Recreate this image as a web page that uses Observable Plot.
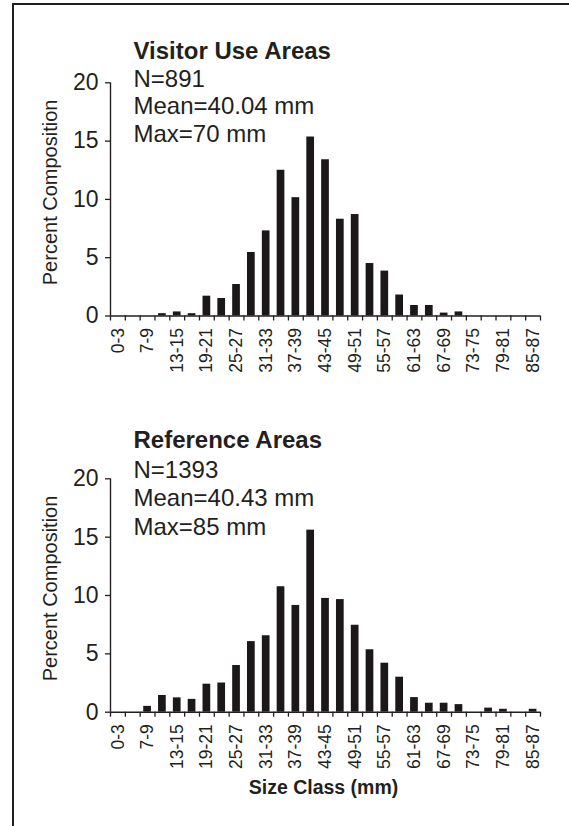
<!DOCTYPE html>
<html>
<head>
<meta charset="utf-8">
<script src="https://cdn.jsdelivr.net/npm/d3@7"></script>
<script src="https://cdn.jsdelivr.net/npm/@observablehq/plot@0.6"></script>
<style>
  html, body { margin: 0; padding: 0; background: #fff; }
  #page { position: relative; width: 569px; height: 826px; overflow: hidden; background: #fff; }
  #frameLeft { position: absolute; left: 12px; top: 3px; width: 2px; height: 823px; background: #231f20; }
  #frameTop { position: absolute; left: 12px; top: 3px; width: 557px; height: 2px; background: #231f20; }
  .panel { position: absolute; left: 0; }
  #top { top: 0; }
  #bottom { top: 400px; }
</style>
</head>
<body>
<div id="page">
  <div id="frameLeft"></div>
  <div id="frameTop"></div>
  <div class="panel" id="top"></div>
  <div class="panel" id="bottom"></div>
</div>
<script>
// ---- data ----
const categories = ["0-3","4-6","7-9","10-12","13-15","16-18","19-21","22-24","25-27","28-30",
  "31-33","34-36","37-39","40-42","43-45","46-48","49-51","52-54","55-57","58-60",
  "61-63","64-66","67-69","70-72","73-75","76-78","79-81","82-84","85-87"];
const visitorPct = [0,0,0,0.2,0.35,0.2,1.7,1.5,2.7,5.45,
  7.3,12.5,10.15,15.35,13.4,8.3,8.7,4.5,3.85,1.8,
  0.9,0.9,0.25,0.35,0,0,0,0,0];
const referencePct = [0,0,0.5,1.43,1.23,1.1,2.4,2.5,4.0,6.05,
  6.55,10.75,9.15,15.6,9.75,9.65,7.45,5.35,4.2,3.0,
  1.25,0.77,0.77,0.65,0,0.35,0.25,0,0.25];
const labelledClasses = ["0-3","7-9","13-15","19-21","25-27","31-33","37-39","43-45",
  "49-51","55-57","61-63","67-69","73-75","79-81","85-87"];
const yTicks = [0, 5, 10, 15, 20];
const visitorText = ["Visitor Use Areas", "N=891", "Mean=40.04 mm", "Max=70 mm"];
const referenceText = ["Reference Areas", "N=1393", "Mean=40.43 mm", "Max=85 mm"];
const yLabel = "Percent Composition";
const xLabel = "Size Class (mm)";

// ---- drawing ----
const ink = "#231f20";
function panel(values, texts, opts) {
  const rows = categories.map((c, i) => ({c, i, v: values[i]})).filter(d => d.v > 0);
  const marks = [
    Plot.rectY(rows, {x1: d => d.i + 0.24, x2: d => d.i + 0.76, y1: 0, y2: "v", fill: "#1c1819"}),
    Plot.ruleY([0], {stroke: ink, strokeWidth: 1.4}),
    Plot.ruleX([0], {stroke: ink, strokeWidth: 1.4}),
    Plot.axisY({ticks: yTicks, tickSize: 5, tickPadding: 7, fontSize: 23, label: null, stroke: ink, strokeWidth: 1.3}),
    Plot.axisX({ticks: d3.range(0, categories.length + 1), tickSize: 5, tickFormat: () => "", label: null, stroke: ink, strokeWidth: 1.3}),
    Plot.axisX({ticks: labelledClasses.map(l => categories.indexOf(l) + 0.5),
      tickFormat: d => categories[Math.round(d - 0.5)], tickSize: 0, tickPadding: 12,
      tickRotate: -90, fontSize: 17.5, label: null}),
    Plot.text([yLabel], {frameAnchor: "left", rotate: -90, dx: -60, dy: -7, fontSize: 20,
      textAnchor: "middle", lineAnchor: "middle", fill: ink}),
    Plot.text([texts[0]], {frameAnchor: "top-left", dx: 23, dy: opts.textDy[0], fontSize: 24,
      fontWeight: "bold", textAnchor: "start", lineAnchor: "bottom", fill: ink}),
    ...texts.slice(1).map((t, k) => Plot.text([t], {frameAnchor: "top-left", dx: 23, dy: opts.textDy[k + 1],
      fontSize: 24, textAnchor: "start", lineAnchor: "bottom", fill: ink}))
  ];
  if (opts.xTitle) {
    marks.push(Plot.text([opts.xTitle], {frameAnchor: "bottom", dx: -2, dy: 81.5, fontSize: 19.5,
      fontWeight: "bold", textAnchor: "middle", lineAnchor: "bottom", fill: ink}));
  }
  return Plot.plot({
    width: 569,
    height: opts.height,
    marginLeft: 110,
    marginRight: 29,
    marginTop: opts.marginTop,
    marginBottom: opts.marginBottom,
    style: {fontFamily: "'Liberation Sans', Arial, Helvetica, sans-serif", color: ink, background: "transparent", overflow: "visible"},
    x: {type: "linear", domain: [0, categories.length], label: null},
    y: {domain: [0, 20], label: null},
    marks
  });
}

document.getElementById("top").appendChild(panel(visitorPct, visitorText, {
  height: 400, marginTop: 82.3, marginBottom: 84.5, textDy: [-24, 4.5, 31.5, 59]
}));
document.getElementById("bottom").appendChild(panel(referencePct, referenceText, {
  height: 426, marginTop: 78.3, marginBottom: 114.3, textDy: [-30.6, -1.2, 27.4, 55.7], xTitle: xLabel
}));
</script>
</body>
</html>
